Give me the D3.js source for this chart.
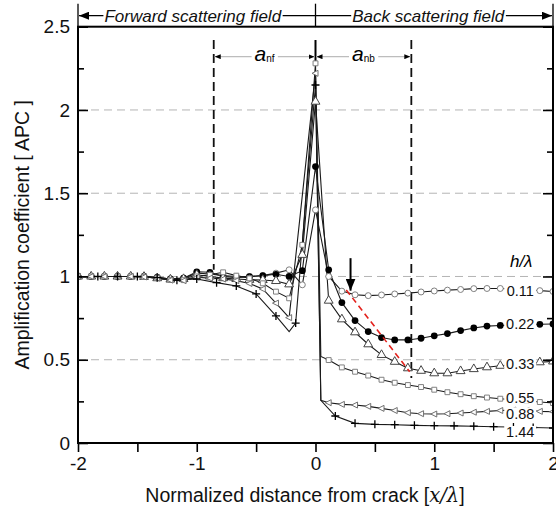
<!DOCTYPE html>
<html>
<head>
<meta charset="utf-8">
<script src="https://cdn.jsdelivr.net/npm/d3@7"></script>
<style>
  body { margin: 0; background: #fff; }
  svg { display: block; font-family: "Liberation Sans", Arial, sans-serif; }
</style>
</head>
<body>
<div id="chart"></div>
<script>
// curve labels (h/λ)
const hValues = ['0.11', '0.22', '0.33', '0.55', '0.88', '1.44'];

// APC curves, [x/λ, APC]
const apc011 = [[-2,1.0],[-1.889,1.0],[-1.778,1.0],[-1.667,1.0],[-1.556,1.0],[-1.444,1.0],[-1.333,0.995],[-1.222,0.985],[-1.111,0.99],[-1,1.02],[-0.889,1.015],[-0.778,1.005],[-0.667,1.0],[-0.556,1.0],[-0.444,1.005],[-0.333,1.02],[-0.222,1.04],[-0.111,0.95],[0,1.40],[0.111,1.0],[0.222,0.912],[0.333,0.89],[0.444,0.885],[0.556,0.889],[0.667,0.895],[0.778,0.9],[0.889,0.907],[1,0.913],[1.111,0.918],[1.222,0.922],[1.333,0.927],[1.444,0.928],[1.556,0.928],[1.667,0.925],[1.778,0.92],[1.889,0.915],[2,0.91]];
const apc022 = [[-2,1.0],[-1.889,1.0],[-1.778,1.0],[-1.667,1.0],[-1.556,1.0],[-1.444,1.0],[-1.333,0.995],[-1.222,0.985],[-1.111,0.99],[-1,1.028],[-0.889,1.025],[-0.778,1.0],[-0.667,0.993],[-0.556,0.999],[-0.444,1.005],[-0.333,1.013],[-0.222,1.0],[-0.111,1.035],[0,1.66],[0.111,1.04],[0.222,0.843],[0.333,0.735],[0.444,0.669],[0.556,0.633],[0.667,0.619],[0.778,0.619],[0.889,0.629],[1,0.644],[1.111,0.657],[1.222,0.675],[1.333,0.691],[1.444,0.702],[1.556,0.706],[1.667,0.709],[1.778,0.711],[1.889,0.713],[2,0.715]];
const apc033 = [[-2,1.0],[-1.889,1.0],[-1.778,1.0],[-1.667,1.0],[-1.556,1.0],[-1.444,0.998],[-1.333,0.99],[-1.222,0.982],[-1.111,0.985],[-1,1.01],[-0.889,1.0],[-0.778,0.99],[-0.667,0.985],[-0.556,0.98],[-0.444,0.979],[-0.333,0.973],[-0.222,0.953],[-0.111,1.13],[0,2.05],[0.111,0.855],[0.222,0.743],[0.333,0.665],[0.444,0.593],[0.556,0.529],[0.667,0.488],[0.778,0.449],[0.889,0.434],[1,0.419],[1.111,0.419],[1.222,0.432],[1.333,0.444],[1.444,0.455],[1.556,0.464],[1.667,0.472],[1.778,0.479],[1.889,0.485],[2,0.49]];
const apc055 = [[-2,1.0],[-1.889,1.0],[-1.778,1.0],[-1.667,1.0],[-1.556,1.0],[-1.444,0.998],[-1.333,0.99],[-1.222,0.98],[-1.111,0.978],[-1,1.0],[-0.889,1.01],[-0.778,1.025],[-0.667,1.005],[-0.556,0.989],[-0.444,0.959],[-0.333,0.909],[-0.222,0.869],[-0.111,1.19],[0,2.28],[0.045,0.52],[0.111,0.498],[0.222,0.454],[0.333,0.428],[0.444,0.405],[0.556,0.38],[0.667,0.362],[0.778,0.348],[0.889,0.336],[1,0.32],[1.111,0.305],[1.222,0.293],[1.333,0.281],[1.444,0.273],[1.556,0.266],[1.667,0.26],[1.778,0.253],[1.889,0.246],[2,0.24]];
const apc088 = [[-2,1.0],[-1.889,1.0],[-1.778,1.0],[-1.667,1.0],[-1.556,1.0],[-1.444,0.997],[-1.333,0.99],[-1.222,0.978],[-1.111,0.975],[-1,0.995],[-0.889,0.99],[-0.778,0.985],[-0.667,0.975],[-0.556,0.958],[-0.444,0.925],[-0.333,0.84],[-0.222,0.753],[0,2.22],[0.045,0.256],[0.111,0.242],[0.222,0.232],[0.333,0.228],[0.444,0.22],[0.556,0.208],[0.667,0.195],[0.778,0.182],[0.889,0.176],[1,0.174],[1.111,0.176],[1.222,0.18],[1.333,0.185],[1.444,0.19],[1.556,0.195],[1.667,0.198],[1.778,0.196],[1.889,0.19],[2,0.188]];
const apc144 = [[-2,1.0],[-1.833,1.0],[-1.667,1.0],[-1.5,1.0],[-1.333,0.993],[-1.167,0.978],[-1,0.985],[-0.833,0.963],[-0.667,0.943],[-0.5,0.895],[-0.333,0.763],[-0.222,0.669],[-0.167,0.72],[0,2.15],[0.045,0.256],[0.167,0.162],[0.333,0.118],[0.5,0.112],[0.667,0.11],[0.833,0.106],[1,0.104],[1.167,0.103],[1.333,0.101],[1.5,0.098],[1.667,0.096],[1.833,0.093],[2,0.09]];

// where the curve labels sit (APC) and at which x/λ
const labelApc = [0.915, 0.715, 0.475, 0.272, 0.178, 0.066];
const labelX = 1.724;

// axis ticks
const yTicks = [0, 0.5, 1, 1.5, 2, 2.5];
const yMinorTicks = [0.25, 0.75, 1.25, 1.75, 2.25];
const xTicks = [-2, -1.5, -1, -0.5, 0, 0.5, 1, 1.5, 2];
const gridValues = [0.5, 1, 1.5, 2];

// annotations
const fieldEdges = [-2, 0, 2];
const aNf = [-0.857, 0];
const aNb = [0, 0.807];
const dashTopApc = 2.42;
const dashBottomApc = [1.04, 0.39];
const aArrowApc = 2.32;
const peakTopApc = 2.28;
const downArrow = { x: 0.295, from: 1.11, to: 0.915 };
const redDash = [[0.259, 0.919], [0.793, 0.428]];

const margin = { top: 26.7, right: 3, bottom: 63, left: 78 };
const width = 556 - margin.left - margin.right;
const height = 506 - margin.top - margin.bottom;

const x = d3.scaleLinear().domain([-2, 2]).range([0, width]);
const y = d3.scaleLinear().domain([0, 2.5]).range([height, 0]);

const svg = d3.select('#chart').append('svg')
    .attr('width', 556)
    .attr('height', 506);

// arrow heads
const defs = svg.append('defs');
defs.append('marker')
    .attr('id', 'headBig').attr('markerUnits', 'userSpaceOnUse')
    .attr('viewBox', '0 0 10 8').attr('refX', 10).attr('refY', 4)
    .attr('markerWidth', 10).attr('markerHeight', 8)
    .attr('orient', 'auto-start-reverse')
    .append('path').attr('d', 'M0,0L10,4L0,8Z').attr('fill', '#000');
defs.append('marker')
    .attr('id', 'headSmall').attr('markerUnits', 'userSpaceOnUse')
    .attr('viewBox', '0 0 6 5').attr('refX', 6).attr('refY', 2.5)
    .attr('markerWidth', 6).attr('markerHeight', 5)
    .attr('orient', 'auto-start-reverse')
    .append('path').attr('d', 'M0,0L6,2.5L0,5Z').attr('fill', '#000');
defs.append('marker')
    .attr('id', 'headDown').attr('markerUnits', 'userSpaceOnUse')
    .attr('viewBox', '0 0 12 10').attr('refX', 12).attr('refY', 5)
    .attr('markerWidth', 12).attr('markerHeight', 10)
    .attr('orient', 'auto')
    .append('path').attr('d', 'M0,0L12,5L0,10Z').attr('fill', '#000');
defs.append('clipPath').attr('id', 'plotClip')
    .append('rect').attr('x', 0).attr('y', -20).attr('width', width).attr('height', height + 20);

const g = svg.append('g')
    .attr('transform', `translate(${margin.left},${margin.top})`);

// white box behind a text so that lines under it are hidden
function knockOut(text, padX, padY) {
    const b = text.node().getBBox();
    d3.select(text.node().parentNode).insert('rect', () => text.node())
        .attr('x', b.x - padX).attr('y', b.y - padY)
        .attr('width', b.width + 2 * padX).attr('height', b.height + 2 * padY)
        .attr('fill', '#fff');
}

// 補助線（グリッド）
g.append('g').selectAll('line')
    .data(gridValues)
    .join('line')
    .attr('x1', 0).attr('x2', width)
    .attr('y1', d => y(d)).attr('y2', d => y(d))
    .attr('stroke', '#b4b4b4')
    .attr('stroke-width', 1)
    .attr('stroke-dasharray', '8,5');

// dashed limits of a_nf / a_nb
g.append('g').selectAll('line')
    .data([aNf[0], aNb[1]])
    .join('line')
    .attr('x1', d => x(d)).attr('x2', d => x(d))
    .attr('y1', y(dashTopApc))
    .attr('y2', (d, i) => y(dashBottomApc[i]))
    .attr('stroke', '#111')
    .attr('stroke-width', 1.8)
    .attr('stroke-dasharray', '9,5');

// solid mark at the crack
g.append('line')
    .attr('x1', x(0)).attr('x2', x(0))
    .attr('y1', y(dashTopApc)).attr('y2', y(peakTopApc))
    .attr('stroke', '#000').attr('stroke-width', 2);

// a_nf / a_nb arrows
[aNf, aNb].forEach((span, i) => {
    const ag = g.append('g');
    ag.append('line')
        .attr('x1', x(span[0]) + 1).attr('x2', x(span[1]) - 1)
        .attr('y1', y(aArrowApc)).attr('y2', y(aArrowApc))
        .attr('stroke', '#bdbdbd').attr('stroke-width', 1.3)
        .attr('marker-start', 'url(#headSmall)')
        .attr('marker-end', 'url(#headSmall)');
    const t = ag.append('text')
        .attr('x', x((span[0] + span[1]) / 2))
        .attr('y', y(aArrowApc))
        .attr('dy', '0.3em')
        .attr('text-anchor', 'middle')
        .attr('fill', '#000');
    t.append('tspan').attr('font-size', 21).attr('font-style', 'italic').text('a');
    t.append('tspan').attr('font-size', 10).attr('dy', '0.1em').text(i === 0 ? 'nf' : 'nb');
    knockOut(t, 3, -3);
});

// curves
const series = [
    { data: apc011, step: 1 / 9, shape: 'circleOpen' },
    { data: apc022, step: 1 / 9, shape: 'circleFilled' },
    { data: apc033, step: 1 / 9, shape: 'triangle' },
    { data: apc055, step: 1 / 9, shape: 'square' },
    { data: apc088, step: 1 / 9, shape: 'triangleLeft' },
    { data: apc144, step: 1 / 6, shape: 'plus' }
];

const line = d3.line()
    .x(d => x(d[0]))
    .y(d => y(d[1]));

const onStep = (v, step) => Math.abs(v / step - Math.round(v / step)) < 0.03;

const curves = g.append('g');
series.forEach(s => {
    curves.append('path')
        .datum(s.data)
        .attr('fill', 'none')
        .attr('stroke', '#1a1a1a')
        .attr('stroke-width', 1.1)
        .attr('d', line);
});

const markers = g.append('g').attr('clip-path', 'url(#plotClip)');
series.forEach(s => {
    const pts = s.data.filter(d => onStep(d[0], s.step));
    const sel = markers.append('g').selectAll('path')
        .data(pts)
        .join('path')
        .attr('transform', d => `translate(${x(d[0])},${y(d[1])})`);
    if (s.shape === 'circleOpen') {
        sel.attr('d', d3.symbol(d3.symbolCircle, 28)())
            .attr('fill', '#fff').attr('stroke', '#808080').attr('stroke-width', 1);
    } else if (s.shape === 'circleFilled') {
        sel.attr('d', d3.symbol(d3.symbolCircle, 36)())
            .attr('fill', '#000');
    } else if (s.shape === 'triangle') {
        sel.attr('d', d3.symbol(d3.symbolTriangle, 34)())
            .attr('fill', '#fff').attr('stroke', '#444').attr('stroke-width', 1);
    } else if (s.shape === 'square') {
        sel.attr('d', d3.symbol(d3.symbolSquare, 24)())
            .attr('fill', '#fff').attr('stroke', '#808080').attr('stroke-width', 1);
    } else if (s.shape === 'triangleLeft') {
        sel.attr('d', 'M-3.5,0L2.5,-3L2.5,3Z')
            .attr('fill', '#fff').attr('stroke', '#707070').attr('stroke-width', 1);
    } else {
        sel.attr('d', 'M-4,0H4M0,-4V4')
            .attr('fill', 'none').attr('stroke', '#000').attr('stroke-width', 1.3);
    }
});

// red guide and the black arrow
g.append('line')
    .attr('x1', x(redDash[0][0])).attr('y1', y(redDash[0][1]))
    .attr('x2', x(redDash[1][0])).attr('y2', y(redDash[1][1]))
    .attr('stroke', '#e3211c').attr('stroke-width', 1.6)
    .attr('stroke-dasharray', '6,4');

g.append('line')
    .attr('x1', x(downArrow.x)).attr('x2', x(downArrow.x))
    .attr('y1', y(downArrow.from)).attr('y2', y(downArrow.to))
    .attr('stroke', '#000').attr('stroke-width', 2)
    .attr('marker-end', 'url(#headDown)');

// curve labels
const labels = g.append('g');
hValues.forEach((h, i) => {
    labels.append('rect')
        .attr('x', x(labelX) - 16).attr('width', 32)
        .attr('y', y(labelApc[i]) - 6).attr('height', 12)
        .attr('fill', '#fff');
    labels.append('text')
        .attr('x', x(labelX)).attr('y', y(labelApc[i]))
        .attr('dy', '0.36em')
        .attr('text-anchor', 'middle')
        .attr('font-size', 14.5)
        .attr('fill', '#111')
        .text(h);
});
labels.append('text')
    .attr('x', x(labelX) + 1).attr('y', y(1.095))
    .attr('dy', '0.35em')
    .attr('text-anchor', 'middle')
    .attr('font-size', 17)
    .attr('font-style', 'italic')
    .text('h/λ');

// axes
const yAxis = g.append('g')
    .call(d3.axisLeft(y).tickValues(yTicks).tickSize(-10).tickPadding(8).tickFormat(d => String(d)));
g.append('g')
    .call(d3.axisLeft(y).tickValues(yMinorTicks).tickSize(-6).tickFormat(''));
g.append('g')
    .attr('transform', `translate(${width},0)`)
    .call(d3.axisRight(y).tickValues(yTicks).tickSize(-10).tickFormat(''));
g.append('g')
    .attr('transform', `translate(${width},0)`)
    .call(d3.axisRight(y).tickValues(yMinorTicks).tickSize(-6).tickFormat(''));
const xAxis = g.append('g')
    .attr('transform', `translate(0,${height})`)
    .call(d3.axisBottom(x).tickValues(xTicks).tickSize(9).tickPadding(5)
        .tickFormat(d => Number.isInteger(d) ? String(d) : ''));

g.selectAll('.domain').remove();
g.selectAll('.tick line').attr('stroke', '#000').attr('stroke-width', 1.6);
yAxis.selectAll('text').attr('font-size', 19).attr('fill', '#111')
    .attr('font-family', '"Liberation Sans", Arial, sans-serif');
xAxis.selectAll('text').attr('font-size', 19).attr('fill', '#111')
    .attr('font-family', '"Liberation Sans", Arial, sans-serif');

// frame
g.append('rect')
    .attr('width', width).attr('height', height)
    .attr('fill', 'none').attr('stroke', '#000').attr('stroke-width', 2);

// field annotation above the frame
const topY = -11;
const fieldNote = g.append('g');
fieldNote.append('line')
    .attr('x1', x(-2) + 1).attr('x2', x(2) - 1)
    .attr('y1', topY).attr('y2', topY)
    .attr('stroke', '#000').attr('stroke-width', 1.2)
    .attr('marker-start', 'url(#headBig)')
    .attr('marker-end', 'url(#headBig)');
fieldNote.selectAll('line.edge')
    .data(fieldEdges)
    .join('line')
    .attr('class', 'edge')
    .attr('x1', d => x(d)).attr('x2', d => x(d))
    .attr('y1', -23).attr('y2', 0)
    .attr('stroke', '#000').attr('stroke-width', 1.3);
[['Forward scattering field', -1, -4], ['Back scattering field', 1, -6]].forEach(([label, cx, shift]) => {
    const t = fieldNote.append('text')
        .attr('x', x(cx) + shift).attr('y', topY)
        .attr('dy', '0.36em')
        .attr('text-anchor', 'middle')
        .attr('font-size', 17)
        .attr('font-style', 'italic')
        .attr('fill', '#111')
        .text(label);
    knockOut(t, 1, -3);
});

// axis titles
svg.append('text')
    .attr('x', 305).attr('y', 502)
    .attr('text-anchor', 'middle')
    .attr('font-size', 19.5)
    .attr('fill', '#111')
    .call(t => {
        t.append('tspan').text('Normalized distance from crack [');
        t.append('tspan').attr('font-style', 'italic').attr('font-family', '"DejaVu Serif", serif').text('x/λ');
        t.append('tspan').text(']');
    });

svg.append('text')
    .attr('transform', `translate(22,${margin.top + height / 2}) rotate(-90)`)
    .attr('text-anchor', 'middle')
    .attr('dy', '0.35em')
    .attr('font-size', 19.5)
    .attr('fill', '#111')
    .text('Amplification coefficient [ APC ]');
</script>
</body>
</html>
